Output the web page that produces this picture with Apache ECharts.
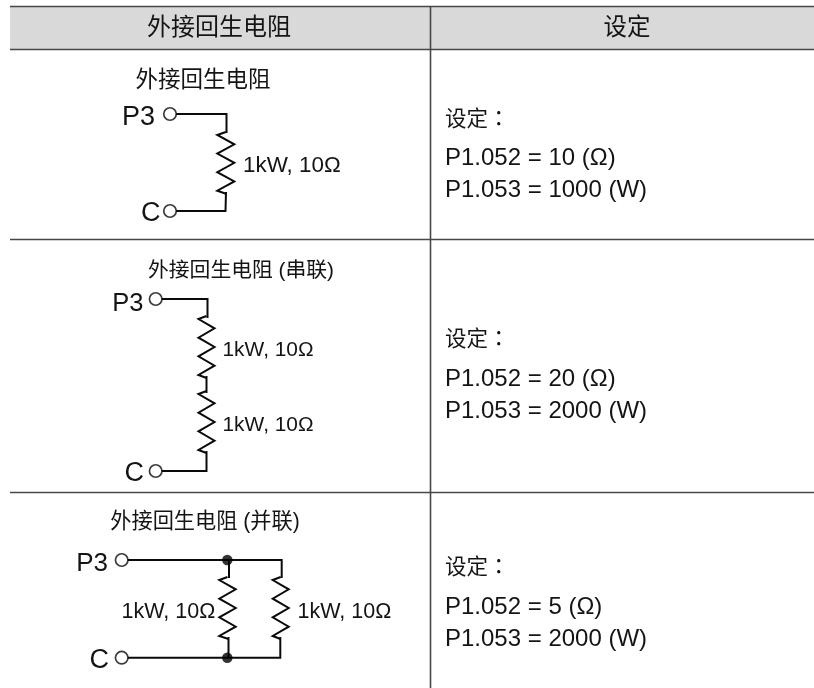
<!DOCTYPE html>
<html><head><meta charset="utf-8">
<style>html,body{margin:0;padding:0;background:#fff}#c{width:814px;height:688px}</style>
<script src="https://cdn.jsdelivr.net/npm/echarts@6/dist/echarts.min.js"></script>
</head><body><div id="c"></div>
<script>
var headerLabels = ['外接回生电阻', '设定'];
var circuitTitles = ['外接回生电阻', '外接回生电阻 (串联)', '外接回生电阻 (并联)'];
var settingTitle = '设定：';
var settingR = ['P1.052 = 10 (Ω)', 'P1.052 = 20 (Ω)', 'P1.052 = 5 (Ω)'];
var settingW = ['P1.053 = 1000 (W)', 'P1.053 = 2000 (W)', 'P1.053 = 2000 (W)'];
var resistorLabel = '1kW, 10Ω';
var terminals = ['P3', 'C'];

var LATIN = '"Liberation Sans", Arial, "Noto Sans CJK SC", sans-serif';
var TC = '"Noto Sans CJK TC", "Noto Sans CJK SC", sans-serif';
var INK = '#141414', RULE = '#474747', WIRE = '#0a0a0a';

function zig(cx, top, bottom, half, endX) {
  var n = 7, step = (bottom - top) / (n - 1), pts = [[cx, top - 3]];
  for (var i = 0; i < n; i++) pts.push([cx + (i % 2 ? half : -half), top + i * step]);
  pts.push([endX === undefined ? cx : endX, bottom + 3]);
  return pts;
}
var rules = [
  [[10, 6.5], [814, 6.5]], [[10, 49.5], [814, 49.5]],
  [[10, 239.5], [814, 239.5]], [[10, 492.5], [814, 492.5]],
  [[430.5, 6.5], [430.5, 688]]
];
var wires = [
  [[176, 114], [226.5, 114], [226.5, 133]], zig(225.8, 135, 190.7, 8.5, 226), [[226, 192], [225.5, 211], [176, 211]],
  [[161.5, 299], [207.5, 299], [207.5, 318]], zig(206.5, 319, 375, 8), [[206.5, 376], [206.5, 393]],
  zig(206.5, 394, 450, 8), [[206.5, 451], [206.5, 471], [161.5, 471]],
  [[128, 560], [281.7, 560], [281.7, 578]], zig(227.5, 580, 636, 8.2, 228.5), [[229, 560], [229, 578]], [[228.5, 637], [228.5, 657.7]],
  zig(280.7, 580, 636, 8, 280.5), [[280.3, 637], [280.3, 657.7], [128, 657.7]]
];
var opens = [[170, 114], [170, 211], [155.7, 299], [155.7, 471], [121.7, 560], [121.7, 657.7]];
var dots = [[227.3, 560], [227.3, 657.7]];

var texts = [
  [219, 28.5, headerLabels[0], 24, 'center', LATIN],
  [627, 28.5, headerLabels[1], 23.5, 'center', LATIN],
  [203, 81, circuitTitles[0], 22.5, 'center', LATIN],
  [241, 271, circuitTitles[1], 20.8, 'center', LATIN],
  [205, 522.5, circuitTitles[2], 21.2, 'center', LATIN],
  [155, 118, terminals[0], 27, 'right', LATIN], [160.5, 214, terminals[1], 27, 'right', LATIN],
  [143.5, 304, terminals[0], 25.5, 'right', LATIN], [144, 474, terminals[1], 27, 'right', LATIN],
  [108, 563.5, terminals[0], 26, 'right', LATIN], [109, 660.5, terminals[1], 27, 'right', LATIN],
  [243, 166, resistorLabel, 22.4, 'left', LATIN],
  [222.5, 350.5, resistorLabel, 20.9, 'left', LATIN], [222.5, 425, resistorLabel, 20.9, 'left', LATIN],
  [121.5, 612.5, resistorLabel, 21.5, 'left', LATIN], [297.5, 612.5, resistorLabel, 21.5, 'left', LATIN]
];
var rowY = [[118, 158.5, 190.5], [338, 379, 411], [566, 607, 639]];
rowY.forEach(function (y, i) {
  texts.push([445, y[0], settingTitle, 21.5, 'left', TC]);
  texts.push([445, y[1], settingR[i], 24, 'left', LATIN]);
  texts.push([445, y[2], settingW[i], 24, 'left', LATIN]);
});

function polyline(name, data, color, width) {
  return {
    type: 'line', name: name, data: data, coordinateSystem: 'cartesian2d', showSymbol: false, silent: true,
    animation: false, lineStyle: { color: color, width: width, cap: 'butt', join: 'miter' }, z: 3
  };
}
var series = [{
  type: 'custom', silent: true, animation: false, z: 1,
  data: [[10, 6.5, 814, 49.5]],
  renderItem: function (p, api) {
    var a = api.coord([api.value(0), api.value(1)]), b = api.coord([api.value(2), api.value(3)]);
    return { type: 'rect', shape: { x: a[0], y: a[1], width: b[0] - a[0], height: b[1] - a[1] }, style: { fill: '#d9d9d9' } };
  }
}];
rules.forEach(function (d, i) { series.push(polyline('rule' + i, d, RULE, 1.6)); });
wires.forEach(function (d, i) { series.push(polyline('wire' + i, d, WIRE, 2)); });
series.push({
  type: 'scatter', data: opens, symbol: 'circle', symbolSize: 12.5, silent: true, animation: false, z: 5,
  itemStyle: { color: '#fff', borderColor: WIRE, borderWidth: 1.7 }
});
series.push({
  type: 'scatter', data: dots, symbol: 'circle', symbolSize: 10.5, silent: true, animation: false, z: 5,
  itemStyle: { color: '#000' }
});
series.push({
  type: 'custom', silent: true, animation: false, z: 6,
  data: texts.map(function (t) { return [t[0], t[1]]; }),
  renderItem: function (p, api) {
    var t = texts[p.dataIndex], c = api.coord([t[0], t[1]]);
    return {
      type: 'text', x: c[0], y: c[1],
      style: { text: t[2], fontSize: t[3], fontFamily: t[5], fill: INK, align: t[4], verticalAlign: 'middle' }
    };
  }
});

var chart = echarts.init(document.getElementById('c'), null, { renderer: 'canvas' });
chart.setOption({
  animation: false, backgroundColor: '#fff',
  grid: { left: 0, right: 0, top: 0, bottom: 0 },
  xAxis: { type: 'value', min: 0, max: 814, show: false },
  yAxis: { type: 'value', min: 0, max: 688, inverse: true, show: false },
  tooltip: { show: false }, legend: { show: false },
  series: series
});
</script></body></html>
